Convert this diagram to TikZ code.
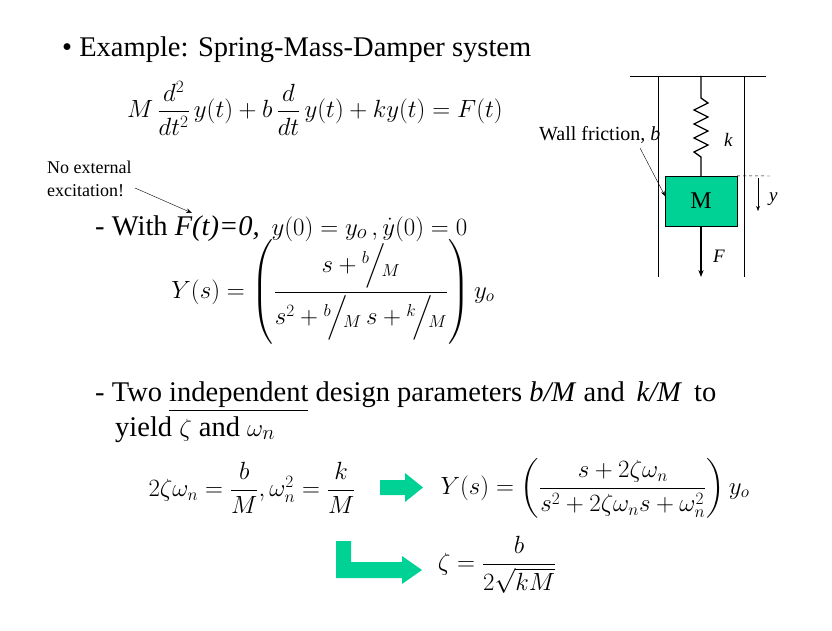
\documentclass[tikz,border=0pt]{standalone}
\usepackage{amsmath}
\usepackage{fontspec}
\setmainfont{Liberation Serif}
\usetikzlibrary{arrows.meta}
\definecolor{grn}{RGB}{0,210,150}
\newcommand{\slfr}[2]{{}^{#1}\mkern-3mu\Big/\mkern-3mu{}_{#2}}
\begin{document}
\begin{tikzpicture}[x=1pt,y=-1pt,
  big/.style={anchor=base west,inner sep=0,font=\fontsize{28.5}{34}\selectfont},
  eq/.style={inner sep=0,font=\fontsize{27}{32}\selectfont},
  lab/.style={anchor=west,inner sep=0,font=\itshape\fontsize{19}{22}\selectfont},
  garrow/.style={fill=grn,draw=none}]
\useasboundingbox (0,0) rectangle (832,631);
\node[big] (t1) at (62,57) {\textbullet\ Example: Spring-Mass-Damper system};
\node[eq] (e1) at (315,108) {$M\,\dfrac{d^2}{dt^2}\,y(t)+b\,\dfrac{d}{dt}\,y(t)+ky(t)=F(t)$};
\node[anchor=west,inner sep=0,align=left,font=\fontsize{18}{23}\selectfont] (ne) at (47,179) {No external\\excitation!};
\node[big] (w) at (95,235) {- With \textit{F(t)=0,}\, $y(0)=y_o\,,\dot y(0)=0$};
\coordinate (fp) at (192,213);
\draw[-{Stealth[length=6pt]}] (135,188) -- (fp);
\node[eq] (e2) at (333,292) {$Y(s)=\left(\dfrac{s+\slfr{b}{M}}{s^2+\slfr{b}{M}\,s+\slfr{k}{M}}\right)y_o$};
\node[big] (tw) at (95,401) {- Two \underline{independent} design parameters \textit{b/M} and\, \textit{k/M}\, to};
\node[big] (yi) at (115,436) {yield $\zeta$ and $\omega_n$};
\node[eq] (e3) at (252,488) {$2\zeta\omega_n=\dfrac{b}{M},\omega_n^2=\dfrac{k}{M}$};
\node[eq] (e4) at (595,488) {$Y(s)=\left(\dfrac{s+2\zeta\omega_n}{s^2+2\zeta\omega_n s+\omega_n^2}\right)y_o$};
\node[eq] (e5) at (497,565) {$\zeta=\dfrac{b}{2\sqrt{kM}}$};
% green arrows
\fill[garrow] (380,480) -- (405,480) -- (405,473) -- (423,487.5) -- (405,502) -- (405,495) -- (380,495) -- cycle;
\fill[garrow] (336,541) -- (351,541) -- (351,562) -- (402,562) -- (402,556) -- (422,570) -- (402,584) -- (402,578) -- (336,578) -- cycle;
% mechanical figure
\draw (630,76) -- (766,76);
\draw (658,76) -- (658,277);
\draw (744,76) -- (744,277);
\node[draw,fill=grn,minimum width=72,minimum height=50,inner sep=0,font=\fontsize{24}{28}\selectfont] (m) at (701,201) {M};
\draw[line width=1.3pt] (701,76) -- (701,98) -- (708,103) -- (694,110) -- (708,117) -- (694,124) -- (708,131) -- (694,138) -- (708,145) -- (694,152) -- (701,157) -- (m.north);
\node[lab] (k) at (724,140) {k};
\draw[dashed] (m.north east) -- (773,176);
\coordinate (y1) at (758,178);
\coordinate (y2) at (758,211);
\draw[-{Stealth[length=5pt]}] (y1) -- (y2);
\node[lab] (yl) at (769,199) {y};
\coordinate (fe) at (701,277);
\draw[line width=1.1pt,-{Stealth[length=7pt]}] (m.south) -- (fe);
\node[lab] (fl) at (713,256) {F};
\node[anchor=base west,inner sep=0,font=\fontsize{20}{24}\selectfont] (wf) at (539,141) {Wall friction, \textit{b}};
\draw[-{Stealth[length=5pt]}] (640,148) -- (665,196);
\end{tikzpicture}
\end{document}
